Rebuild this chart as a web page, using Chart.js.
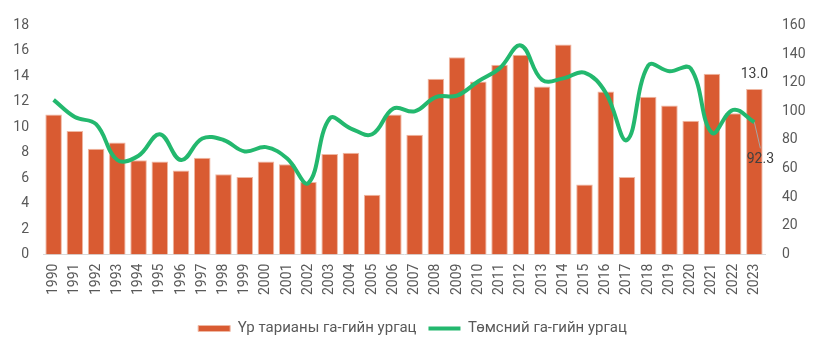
<!DOCTYPE html>
<html>
<head>
<meta charset="utf-8">
<script src="https://cdn.jsdelivr.net/npm/chart.js@4.4.1/dist/chart.umd.min.js"></script>
<style>
  html, body { margin: 0; padding: 0; background: #fff; }
  #wrap { width: 825px; height: 351px; position: relative; }
</style>
</head>
<body>
<div id="wrap"><canvas id="chart"></canvas></div>
<script>
// Years on the x axis
const years = ['1990','1991','1992','1993','1994','1995','1996','1997','1998','1999',
  '2000','2001','2002','2003','2004','2005','2006','2007','2008','2009',
  '2010','2011','2012','2013','2014','2015','2016','2017','2018','2019',
  '2020','2021','2022','2023'];

// Grain yield per ha (left axis, bars)
const grainYield = [11.0, 9.7, 8.3, 8.8, 7.4, 7.3, 6.6, 7.6, 6.3, 6.1,
  7.3, 7.1, 5.7, 7.9, 8.0, 4.7, 11.0, 9.4, 13.8, 15.5,
  13.6, 14.9, 15.7, 13.2, 16.5, 5.5, 12.8, 6.1, 12.4, 11.7,
  10.5, 14.2, 11.1, 13.0];

// Potato yield per ha (right axis, line)
const potatoYield = [108, 96, 91, 66, 69, 84, 66, 81, 80, 72,
  75, 67, 50, 95, 88, 84, 102, 100, 110, 111,
  121, 130, 146, 122, 123, 127, 113, 80, 132, 128,
  130, 85, 101, 92.3];

const leftTicks = [0, 2, 4, 6, 8, 10, 12, 14, 16, 18];
const rightTicks = [0, 20, 40, 60, 80, 100, 120, 140, 160];

const barColor = '#d95b32';
const lineColor = '#23b86e';
const textColor = '#595959';
const fontFamily = 'Roboto, "Noto Sans", sans-serif';

// draws the two value labels on the last year
const lastLabels = {
  id: 'lastLabels',
  afterDatasetsDraw(chart) {
    const ctx = chart.ctx;
    const barMeta = chart.getDatasetMeta(0);
    const lineMeta = chart.getDatasetMeta(1);
    const n = grainYield.length - 1;
    const bar = barMeta.data[n];
    const pt = lineMeta.data[n];
    ctx.save();
    ctx.font = '14px ' + fontFamily;
    ctx.fillStyle = '#404040';
    ctx.textAlign = 'center';
    ctx.textBaseline = 'middle';
    ctx.fillText(grainYield[n].toFixed(1), bar.x, bar.y - 15);

    ctx.strokeStyle = '#a6a6a6';
    ctx.lineWidth = 1;
    ctx.beginPath();
    ctx.moveTo(pt.x, pt.y);
    ctx.lineTo(pt.x + 6, pt.y + 26);
    ctx.stroke();
    ctx.fillText(potatoYield[n].toFixed(1), pt.x + 6, pt.y + 37);
    ctx.restore();
  }
};

new Chart(document.getElementById('chart'), {
  type: 'bar',
  data: {
    labels: years,
    datasets: [{
      type: 'bar',
      label: 'Үр тарианы га-гийн ургац',
      data: grainYield,
      backgroundColor: barColor,
      borderColor: '#efb8a3',
      borderWidth: 1,
      barPercentage: 0.78,
      categoryPercentage: 1,
      pointStyle: 'rect',
      yAxisID: 'y',
      order: 2
    }, {
      type: 'line',
      label: 'Төмсний га-гийн ургац',
      data: potatoYield,
      borderColor: lineColor,
      backgroundColor: lineColor,
      borderWidth: 4,
      pointRadius: 0,
      pointStyle: 'line',
      tension: 0.4,
      yAxisID: 'y1',
      order: 1
    }]
  },
  options: {
    responsive: true,
    maintainAspectRatio: false,
    animation: false,
    layout: { padding: { top: 22, bottom: 5, left: 0, right: 0 } },
    plugins: {
      tooltip: { enabled: false },
      legend: {
        position: 'bottom',
        labels: {
          usePointStyle: true,
          pointStyleWidth: 32,
          boxWidth: 32,
          boxHeight: 6,
          padding: 12,
          color: textColor,
          font: { family: fontFamily, size: 15 },
          sort: (a, b) => a.datasetIndex - b.datasetIndex
        }
      }
    },
    scales: {
      x: {
        grid: { display: false, drawTicks: false },
        border: { display: true, color: '#d9d9d9', width: 1 },
        afterFit: axis => { axis.height += 5; },
        ticks: {
          minRotation: 90,
          maxRotation: 90,
          padding: 9,
          color: textColor,
          font: { family: fontFamily, size: 14 }
        }
      },
      y: {
        position: 'left',
        min: 0,
        max: 18,
        afterBuildTicks: axis => { axis.ticks = leftTicks.map(v => ({ value: v })); },
        afterFit: axis => { axis.width = 43; },
        grid: { display: false, drawTicks: false },
        border: { display: false },
        ticks: { padding: 14, color: textColor, font: { family: fontFamily, size: 14 } }
      },
      y1: {
        position: 'right',
        min: 0,
        max: 160,
        afterBuildTicks: axis => { axis.ticks = rightTicks.map(v => ({ value: v })); },
        afterFit: axis => { axis.width = 60; },
        grid: { display: false, drawTicks: false },
        border: { display: false },
        ticks: { padding: 17, color: textColor, font: { family: fontFamily, size: 14 } }
      }
    }
  },
  plugins: [lastLabels]
});
</script>
</body>
</html>
